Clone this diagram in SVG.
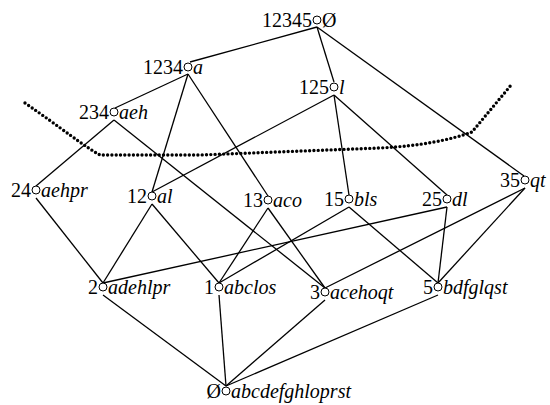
<svg xmlns="http://www.w3.org/2000/svg" width="550" height="405" viewBox="0 0 550 405">
  <style>
    .edge { stroke: #000; stroke-width: 1.3; fill: none; }
    .cut { stroke: #000; stroke-width: 3.4; fill: none; stroke-linecap: round; stroke-dasharray: 0 4.3; }
    .dot { fill: #fff; stroke: #000; stroke-width: 1; }
    .num { font-family: "Liberation Serif", "Times New Roman", serif; font-size: 20px; fill: #000; text-anchor: end; }
    .set { font-family: "Liberation Serif", "Times New Roman", serif; font-size: 20px; font-style: italic; fill: #000; text-anchor: start; }
    .sym { font-style: normal; }
  </style>
  <rect width="550" height="405" fill="#fff"/>

  <!-- dotted cut line -->
  <path class="cut" d="M25,103 C60,127 85,147 100,155 L200,155 L380,148 C420,146 450,140 472,132 L512,84"/>

  <!-- connectors: lower end of each line starts just below a node, upper end meets the node above -->
  <g id="connectors">
    <line class="edge" x1="317" y1="27" x2="190" y2="62"/>
    <line class="edge" x1="317" y1="27" x2="334" y2="82"/>
    <line class="edge" x1="317" y1="27" x2="524" y2="176"/>

    <line class="edge" x1="188" y1="74" x2="115" y2="108"/>
    <line class="edge" x1="188" y1="74" x2="152" y2="192"/>
    <line class="edge" x1="188" y1="74" x2="268" y2="196"/>

    <line class="edge" x1="334" y1="95" x2="152" y2="192"/>
    <line class="edge" x1="334" y1="95" x2="349" y2="195"/>
    <line class="edge" x1="334" y1="95" x2="447" y2="195"/>

    <line class="edge" x1="114" y1="120" x2="36" y2="186"/>
    <line class="edge" x1="114" y1="120" x2="325" y2="288"/>

    <line class="edge" x1="36" y1="198" x2="103" y2="283"/>

    <line class="edge" x1="152" y1="204" x2="103" y2="283"/>
    <line class="edge" x1="152" y1="204" x2="219" y2="283"/>

    <line class="edge" x1="268" y1="208" x2="219" y2="283"/>
    <line class="edge" x1="268" y1="208" x2="325" y2="288"/>

    <line class="edge" x1="349" y1="207" x2="219" y2="283"/>
    <line class="edge" x1="349" y1="207" x2="438" y2="283"/>

    <line class="edge" x1="447" y1="207" x2="103" y2="283"/>
    <line class="edge" x1="447" y1="207" x2="438" y2="283"/>

    <line class="edge" x1="525" y1="188" x2="325" y2="288"/>
    <line class="edge" x1="525" y1="188" x2="438" y2="283"/>

    <line class="edge" x1="103" y1="295" x2="226" y2="386"/>
    <line class="edge" x1="219" y1="295" x2="226" y2="386"/>
    <line class="edge" x1="325" y1="300" x2="226" y2="386"/>
    <line class="edge" x1="438" y1="295" x2="226" y2="386"/>
  </g>

  <!-- nodes -->
  <g id="n12345">
    <circle class="dot" cx="317" cy="20" r="4"/>
    <text class="num" x="312" y="27">12345</text>
    <text class="set" x="322" y="27"><tspan class="sym">Ø</tspan></text>
  </g>
  <g id="n1234">
    <circle class="dot" cx="188" cy="67" r="4"/>
    <text class="num" x="183" y="74">1234</text>
    <text class="set" x="193" y="74">a</text>
  </g>
  <g id="n125">
    <circle class="dot" cx="334" cy="87" r="4"/>
    <text class="num" x="329" y="94">125</text>
    <text class="set" x="339" y="94">l</text>
  </g>
  <g id="n234">
    <circle class="dot" cx="114" cy="112" r="4"/>
    <text class="num" x="109" y="119">234</text>
    <text class="set" x="119" y="119">aeh</text>
  </g>
  <g id="n24">
    <circle class="dot" cx="36" cy="190" r="4"/>
    <text class="num" x="31" y="197">24</text>
    <text class="set" x="41" y="197">aehpr</text>
  </g>
  <g id="n12">
    <circle class="dot" cx="152" cy="196" r="4"/>
    <text class="num" x="147" y="203">12</text>
    <text class="set" x="157" y="203">al</text>
  </g>
  <g id="n13">
    <circle class="dot" cx="268" cy="200" r="4"/>
    <text class="num" x="263" y="207">13</text>
    <text class="set" x="273" y="207">aco</text>
  </g>
  <g id="n15">
    <circle class="dot" cx="349" cy="199" r="4"/>
    <text class="num" x="344" y="206">15</text>
    <text class="set" x="354" y="206">bls</text>
  </g>
  <g id="n25">
    <circle class="dot" cx="447" cy="199" r="4"/>
    <text class="num" x="442" y="206">25</text>
    <text class="set" x="452" y="206">dl</text>
  </g>
  <g id="n35">
    <circle class="dot" cx="525" cy="180" r="4"/>
    <text class="num" x="520" y="187">35</text>
    <text class="set" x="530" y="187">qt</text>
  </g>
  <g id="n2">
    <circle class="dot" cx="103" cy="287" r="4"/>
    <text class="num" x="98" y="294">2</text>
    <text class="set" x="108" y="294">adehlpr</text>
  </g>
  <g id="n1">
    <circle class="dot" cx="219" cy="287" r="4"/>
    <text class="num" x="214" y="294">1</text>
    <text class="set" x="224" y="294">abclos</text>
  </g>
  <g id="n3">
    <circle class="dot" cx="325" cy="292" r="4"/>
    <text class="num" x="320" y="299">3</text>
    <text class="set" x="330" y="299">acehoqt</text>
  </g>
  <g id="n5">
    <circle class="dot" cx="438" cy="287" r="4"/>
    <text class="num" x="433" y="294">5</text>
    <text class="set" x="443" y="294">bdfglqst</text>
  </g>
  <g id="n0">
    <circle class="dot" cx="226" cy="391" r="4"/>
    <text class="num" x="221" y="398"><tspan>Ø</tspan></text>
    <text class="set" x="231" y="398">abcdefghloprst</text>
  </g>
</svg>
